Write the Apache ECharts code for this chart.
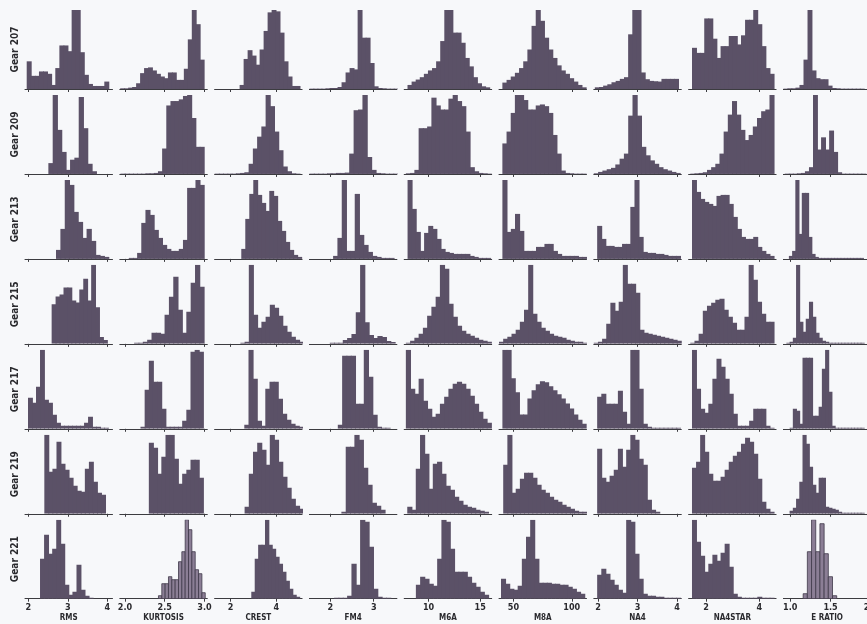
<!DOCTYPE html>
<html>
<head>
<meta charset="utf-8">
<script src="https://cdn.jsdelivr.net/npm/echarts@6/dist/echarts.min.js"></script>
<style>
  html, body { margin: 0; padding: 0; background: #f7f8fa; }
  #chart { width: 867px; height: 624px; }
</style>
</head>
<body>
<div id="chart"></div>
<script>
// Gearbox condition indicators: one histogram per gear (rows) and feature (columns).
const gears = ['Gear 207', 'Gear 209', 'Gear 213', 'Gear 215', 'Gear 217', 'Gear 219', 'Gear 221'];
const features = ['RMS', 'KURTOSIS', 'CREST', 'FM4', 'M6A', 'M8A', 'NA4', 'NA4STAR', 'E RATIO'];

// Shared x range and tick positions of each feature column
const axisMin = [1.916, 1.935, 1.30, 1.515, 7.64, 37.66, 1.89, 1.347, 0.915];
const axisMax = [4.13, 3.035, 5.13, 3.536, 16.11, 112.6, 4.106, 4.63, 2.0];
const tickValues = [[2, 3, 4], [2.0, 2.5, 3.0], [2, 4], [2, 3], [10, 15], [50, 100], [2, 3, 4], [2, 4], [1.0, 1.5, 2.0]];
const tickDecimals = [0, 1, 0, 0, 0, 0, 0, 0, 1];

// Histograms, one entry per gear: [left edge, right edge, counts of equal-width bins]
const RMS = [
  [1.959, 4.026, [82, 39, 39, 52, 52, 45, 12, 62, 129, 129, 112, 234, 234, 109, 42, 15, 9, 9, 9, 22]],
  [2.507, 3.714, [32, 233, 130, 65, 12, 42, 48, 227, 135, 30, 8]],
  [2.701, 4.026, [9, 30, 79, 74, 47, 37, 21, 30, 18, 4, 3, 2]],
  [2.59, 3.99, [40, 48, 50, 57, 57, 44, 42, 55, 66, 44, 80, 37, 7, 4]],
  [1.992, 4.018, [31, 26, 42, 79, 29, 26, 14, 6, 3, 3, 3, 3, 3, 3, 6, 12, 2, 2, 1, 1]],
  [2.405, 3.943, [79, 42, 45, 72, 50, 44, 36, 28, 23, 22, 45, 52, 32, 21, 19]],
  [2.296, 3.629, [40, 64, 45, 50, 79, 55, 14, 4, 7, 34, 9, 3, 1]]
];
const KURTOSIS = [
  [1.94, 2.99, [2, 2, 4, 6, 17, 47, 62, 64, 55, 45, 37, 32, 49, 49, 27, 27, 60, 147, 234, 192, 87]],
  [1.943, 2.991, [1, 1, 1, 1, 1, 1, 2, 2, 3, 8, 75, 202, 215, 215, 220, 230, 233, 165, 80, 80]],
  [1.943, 2.991, [0, 0, 1, 1, 6, 36, 49, 44, 29, 21, 14, 10, 8, 8, 10, 19, 71, 71, 79, 74]],
  [2.115, 2.99, [1, 1, 2, 4, 11, 11, 10, 29, 47, 67, 34, 11, 32, 61, 79, 57]],
  [2.195, 2.981, [2, 39, 68, 47, 47, 20, 2, 2, 2, 2, 8, 19, 77, 79, 77]],
  [2.30, 2.981, [71, 66, 40, 57, 79, 79, 55, 30, 40, 44, 54, 54, 36]],
  [2.421, 3.009, [3, 15, 15, 22, 19, 19, 37, 47, 79, 69, 47, 29, 25, 6]]
];
const CREST = [
  [2.395, 5.02, [12, 89, 115, 99, 72, 117, 172, 227, 234, 230, 167, 82, 37, 9, 9]],
  [1.301, 5.02, [1, 1, 1, 1, 1, 2, 3, 5, 30, 75, 110, 140, 233, 200, 125, 70, 22, 8, 2, 1]],
  [2.468, 5.093, [10, 40, 65, 79, 64, 56, 48, 68, 63, 38, 28, 17, 9, 4, 2]],
  [2.43, 5.187, [1, 2, 79, 29, 16, 22, 27, 39, 36, 28, 18, 12, 7, 4, 2]],
  [2.6, 5.173, [4, 79, 50, 8, 3, 40, 47, 47, 30, 15, 9, 5, 3, 2]],
  [2.613, 5.186, [7, 40, 62, 71, 64, 49, 79, 74, 52, 37, 26, 15, 8, 5]],
  [2.906, 5.006, [7, 40, 54, 54, 79, 54, 50, 42, 35, 27, 18, 10, 4, 2]]
];
const FM4 = [
  [1.516, 3.556, [1, 1, 1, 1, 2, 3, 3, 6, 20, 49, 62, 58, 234, 152, 152, 77, 8, 3, 2, 1, 1, 1]],
  [1.516, 3.556, [1, 1, 1, 1, 2, 2, 3, 3, 4, 60, 188, 190, 233, 50, 12, 3, 2, 1, 1, 1]],
  [2.062, 3.462, [3, 21, 79, 8, 8, 65, 24, 14, 7, 3, 2, 1, 1, 1]],
  [1.986, 3.486, [1, 1, 1, 4, 6, 10, 32, 80, 22, 9, 6, 8, 7, 3, 2]],
  [2.171, 3.371, [4, 73, 73, 73, 25, 25, 79, 52, 14, 2, 1, 1]],
  [2.254, 3.254, [2, 67, 67, 79, 74, 46, 29, 11, 8, 4]],
  [2.086, 3.386, [1, 1, 1, 3, 35, 14, 79, 77, 52, 10, 2, 1, 1]]
];
const M6A = [
  [7.96, 15.875, [12, 22, 28, 35, 45, 55, 62, 82, 142, 234, 234, 167, 167, 137, 92, 67, 35, 17, 8, 5]],
  [7.8, 16.04, [2, 3, 12, 135, 135, 140, 225, 202, 190, 190, 222, 233, 215, 200, 125, 20, 8, 3, 2, 1]],
  [7.965, 15.965, [79, 50, 27, 8, 26, 33, 30, 20, 10, 7, 6, 5, 5, 5, 5, 3, 2, 1, 1, 1]],
  [7.8, 16.04, [1, 3, 6, 10, 16, 28, 37, 47, 79, 75, 40, 27, 18, 13, 10, 8, 6, 4, 3, 2]],
  [7.8, 16.04, [79, 40, 35, 50, 28, 20, 12, 15, 25, 32, 40, 45, 47, 45, 40, 33, 25, 17, 10, 6]],
  [7.936, 15.764, [7, 4, 45, 79, 60, 25, 50, 52, 40, 28, 24, 17, 13, 9, 7, 6, 4, 3, 2]],
  [8.77, 15.774, [14, 22, 20, 15, 13, 40, 79, 77, 50, 27, 27, 27, 22, 16, 12, 7, 4]]
];
const M8A = [
  [40.55, 111.95, [19, 27, 37, 48, 62, 82, 117, 187, 234, 202, 152, 117, 92, 70, 55, 45, 32, 22, 12, 5]],
  [40.55, 111.95, [90, 125, 180, 233, 233, 218, 190, 190, 202, 205, 200, 180, 115, 60, 10, 3, 2, 1, 1, 1]],
  [40.57, 112.57, [79, 27, 30, 45, 28, 8, 8, 8, 12, 12, 15, 15, 8, 5, 3, 3, 3, 3, 2, 2]],
  [37.66, 112.63, [2, 5, 7, 10, 14, 22, 34, 79, 30, 22, 16, 13, 10, 8, 7, 6, 4, 3, 2, 2, 1]],
  [40.57, 111.97, [78, 78, 50, 36, 14, 14, 30, 38, 44, 47, 46, 42, 38, 34, 30, 25, 20, 14, 9, 5]],
  [41.26, 112.66, [49, 79, 21, 25, 35, 41, 41, 36, 29, 24, 21, 17, 14, 12, 9, 7, 5, 3, 2, 2]],
  [39.37, 110.77, [20, 15, 10, 9, 13, 40, 62, 79, 40, 16, 16, 16, 15, 15, 14, 14, 12, 10, 7, 5]]
];
const NA4 = [
  [1.916, 4.025, [5, 6, 10, 14, 20, 24, 30, 35, 162, 234, 234, 49, 29, 24, 23, 22, 30, 30, 30, 30]],
  [1.89, 4.068, [2, 6, 10, 14, 18, 28, 45, 60, 172, 233, 172, 80, 55, 40, 30, 20, 14, 10, 6, 3]],
  [1.975, 4.075, [33, 20, 13, 13, 12, 12, 15, 15, 52, 79, 22, 7, 6, 6, 5, 5, 4, 3, 3, 3]],
  [1.89, 4.095, [1, 2, 5, 20, 41, 33, 42, 79, 60, 60, 51, 14, 11, 10, 9, 8, 7, 6, 5, 4, 3]],
  [1.975, 4.075, [32, 35, 25, 25, 25, 38, 17, 5, 79, 79, 40, 5, 2, 1, 1, 1, 1, 1, 1, 1]],
  [1.975, 3.55, [65, 36, 32, 38, 44, 65, 47, 64, 79, 74, 55, 49, 14, 4, 2]],
  [1.975, 4.075, [24, 30, 25, 19, 14, 9, 6, 79, 77, 45, 20, 5, 3, 3, 2, 2, 1, 1, 1, 1]]
];
const NA4STAR = [
  [1.474, 4.538, [122, 107, 107, 209, 209, 149, 92, 127, 127, 157, 157, 132, 159, 205, 205, 234, 192, 127, 62, 45]],
  [1.411, 4.538, [1, 2, 3, 5, 12, 20, 30, 60, 125, 175, 215, 175, 130, 100, 115, 140, 165, 185, 190, 233]],
  [1.474, 4.538, [79, 67, 60, 57, 55, 53, 63, 64, 64, 55, 42, 30, 22, 20, 20, 22, 12, 8, 5, 3]],
  [1.411, 4.538, [1, 3, 10, 33, 38, 41, 44, 45, 34, 27, 21, 14, 14, 27, 79, 64, 42, 30, 22, 22]],
  [1.474, 4.538, [79, 40, 20, 16, 25, 50, 70, 62, 50, 35, 15, 3, 3, 3, 8, 20, 20, 20, 3, 1]],
  [1.474, 4.538, [46, 52, 79, 62, 40, 33, 33, 37, 44, 52, 58, 62, 70, 76, 72, 60, 35, 12, 5, 2]],
  [1.474, 4.538, [79, 57, 43, 27, 35, 44, 38, 46, 55, 32, 5, 2, 1, 1, 1, 1, 2, 1, 1, 1]]
];
const E_RATIO = [
  [0.915, 1.912, [1, 2, 2, 4, 12, 87, 234, 55, 32, 29, 29, 10, 3, 2, 1, 1, 1, 1, 1, 1]],
  [0.932, 1.932, [1, 1, 1, 2, 3, 8, 20, 233, 72, 108, 72, 128, 65, 5, 1, 1, 1, 1, 1, 1]],
  [0.983, 1.903, [3, 8, 79, 25, 66, 66, 22, 5, 2, 1, 1, 1, 1, 1, 1, 1, 1, 1, 1, 1, 1, 1, 1]],
  [0.952, 1.912, [1, 2, 6, 79, 22, 12, 25, 42, 27, 11, 6, 3, 2, 1, 1, 1, 1, 1, 1, 1, 1, 1, 1, 1]],
  [0.992, 1.912, [1, 20, 18, 5, 71, 71, 71, 13, 13, 22, 60, 79, 37, 3, 1, 1, 1, 1, 1, 1, 1, 1, 1]],
  [0.992, 1.912, [3, 6, 15, 32, 79, 70, 47, 29, 21, 36, 36, 7, 6, 5, 4, 2, 1, 1, 1, 1, 1, 1, 1]],
  [1.16, 1.576, [5, 47, 79, 47, 75, 45, 22, 3]]
];
const histograms = [RMS, KURTOSIS, CREST, FM4, M6A, M8A, NA4, NA4STAR, E_RATIO];

// Layout of the panel grid (pixels)
const colLeft = 25, colStep = 94.8, panelW = 87.5;
const rowBase = 89, rowStep = 84.95, panelH = 79;

// Panels drawn as outlined, lighter bars
const outlinedPanels = ['Gear 221|KURTOSIS', 'Gear 221|E RATIO'];

const fontFamily = "'Liberation Sans Narrow', 'DejaVu Sans Condensed', 'Liberation Sans', Arial, sans-serif";
const inkColor = '#2a2a2e';
const axisColor = '#3c3c40';
const barFill = '#5b5167';
const outlinedFill = '#8b7e95';
const outlinedEdge = '#3f3949';

// Solid bars: each rect reaches slightly under its right neighbour so no seams show
function renderSolid(params, api) {
  const a = api.coord([api.value(0), 0]);
  const b = api.coord([api.value(1), api.value(2)]);
  return {
    type: 'rect',
    shape: { x: a[0], y: b[1], width: b[0] - a[0] + 0.9, height: a[1] - b[1] },
    style: { fill: barFill }
  };
}
// Outlined bars: exact bin edges with a dark edge line
function renderOutlined(params, api) {
  const a = api.coord([api.value(0), 0]);
  const b = api.coord([api.value(1), api.value(2)]);
  return {
    type: 'rect',
    shape: { x: a[0], y: b[1], width: b[0] - a[0], height: a[1] - b[1] },
    style: { fill: outlinedFill, stroke: outlinedEdge, lineWidth: 0.8 }
  };
}

const grids = [], xAxes = [], yAxes = [], series = [];
gears.forEach((gear, r) => {
  features.forEach((feat, c) => {
    const idx = grids.length;
    const base = rowBase + r * rowStep;
    const bottom = r === gears.length - 1;
    grids.push({
      left: colLeft + c * colStep, top: base - panelH, width: panelW, height: panelH,
      outerBoundsMode: 'none', containLabel: false
    });

    xAxes.push({
      gridIndex: idx, type: 'value', min: axisMin[c], max: axisMax[c],
      axisLine: { show: true, onZero: false, lineStyle: { color: axisColor, width: 1 } },
      axisTick: { show: true, length: 3, customValues: tickValues[c], lineStyle: { color: axisColor, width: 1 } },
      axisLabel: {
        show: bottom, customValues: tickValues[c], margin: 4,
        formatter: v => Number(v).toFixed(tickDecimals[c]),
        fontSize: 9, fontWeight: 'bold', color: inkColor, fontFamily
      },
      splitLine: { show: false },
      name: bottom ? feat : '', nameLocation: 'middle', nameGap: 15,
      nameTextStyle: { fontSize: 8, fontWeight: 'bold', color: inkColor, fontFamily }
    });

    const [lo, hi, counts] = histograms[c][r];
    const bw = (hi - lo) / counts.length;
    const peak = Math.max(...counts);
    yAxes.push({
      gridIndex: idx, type: 'value', min: 0, max: peak, show: c === 0,
      axisLine: { show: false }, axisTick: { show: false }, axisLabel: { show: false }, splitLine: { show: false },
      name: c === 0 ? gear : '', nameLocation: 'middle', nameRotate: 90, nameGap: 5,
      nameTextStyle: { fontSize: 10, fontWeight: 'bold', color: inkColor, fontFamily }
    });

    const outlined = outlinedPanels.includes(gear + '|' + feat);
    series.push({
      type: 'custom', name: gear + ' ' + feat,
      xAxisIndex: idx, yAxisIndex: idx, clip: true,
      encode: { x: [0, 1], y: 2 },
      data: counts.map((n, i) => [lo + i * bw, lo + (i + 1) * bw, n]),
      renderItem: outlined ? renderOutlined : renderSolid
    });
  });
});

const chart = echarts.init(document.getElementById('chart'), null, { renderer: 'canvas' });
chart.setOption({
  backgroundColor: '#f7f8fa',
  animation: false,
  grid: grids,
  xAxis: xAxes,
  yAxis: yAxes,
  series: series
});
</script>
</body>
</html>
